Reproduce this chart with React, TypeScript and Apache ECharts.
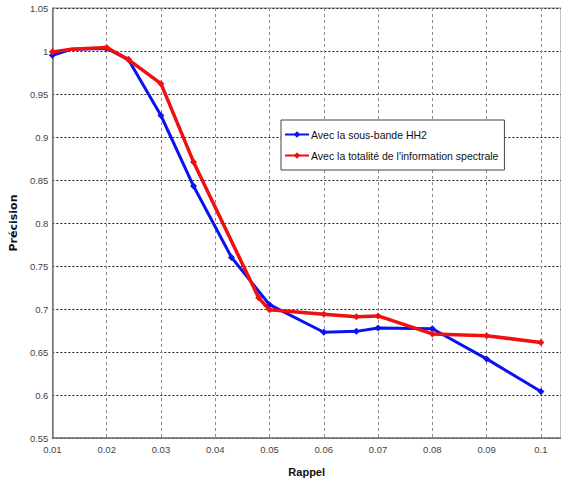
import React, { useEffect, useRef } from "react";
import * as echarts from "echarts";

const blueName = "Avec la sous-bande HH2";
const redName = "Avec la totalité de l'information spectrale";

const blueX = [0.01, 0.0135, 0.02, 0.024, 0.03, 0.036, 0.043, 0.05, 0.06, 0.066, 0.07, 0.08, 0.09, 0.1];
const blueY = [0.995, 1.002, 1.003, 0.99, 0.925, 0.843, 0.76, 0.705, 0.673, 0.674, 0.678, 0.677, 0.642, 0.604];

const redX = [0.01, 0.0135, 0.02, 0.024, 0.03, 0.036, 0.048, 0.05, 0.06, 0.066, 0.07, 0.08, 0.09, 0.1];
const redY = [0.999, 1.002, 1.004, 0.99, 0.962, 0.871, 0.713, 0.699, 0.694, 0.691, 0.692, 0.671, 0.669, 0.661];

const SANS = "'Liberation Sans', Arial, sans-serif";

function isMultiple(v: number, step: number) {
  const k = v / step;
  return Math.abs(k - Math.round(k)) < 1e-6;
}

export default function App() {
  const ref = useRef<HTMLDivElement>(null);
  useEffect(() => {
    if (!ref.current) return;
    const chart = echarts.init(ref.current, undefined, { renderer: "svg" });
    const pairs = (xs: number[], ys: number[]) => xs.map((x, i) => [x, ys[i]]);
    const noMid = (xs: number[]) => (v: any, p: any) => (isMultiple(xs[p.dataIndex], 0.001) && xs[p.dataIndex] !== 0.0135 ? 7 : 0);
    chart.setOption({
      animation: false,
      backgroundColor: "#ffffff",
      grid: {
        left: 43,
        top: 8,
        right: 0,
        bottom: 39,
        show: true,
        borderColor: "#8a8a8a",
        borderWidth: 1,
      },
      legend: {
        orient: "vertical",
        left: 281,
        top: 120,
        padding: [9, 6, 9, 3],
        itemGap: 10,
        itemWidth: 24,
        itemHeight: 8,
        backgroundColor: "#ffffff",
        borderColor: "#444",
        borderWidth: 1,
        textStyle: { fontFamily: SANS, fontSize: 10.5, color: "#111", padding: [0, 0, 0, -3] },
        data: [blueName, redName],
      },
      xAxis: {
        type: "value",
        min: 0.01,
        max: 0.1037,
        interval: 0.01,
        name: "Rappel",
        nameLocation: "middle",
        nameGap: 28,
        nameTextStyle: { fontFamily: SANS, fontWeight: "bold", fontSize: 11, color: "#111" },
        axisLine: { show: true, lineStyle: { color: "#777", width: 1.5 } },
        axisTick: { show: false },
        axisLabel: {
          fontFamily: SANS,
          fontSize: 9.5,
          color: "#444",
          margin: 6,
          showMaxLabel: false,
          formatter: (v: number) => (isMultiple(v, 0.01) ? String(+v.toFixed(2)) : ""),
        },
        splitLine: { show: true, lineStyle: { color: "#8a8a8a", type: [3, 3], width: 1 } },
      },
      yAxis: {
        type: "value",
        min: 0.55,
        max: 1.05,
        interval: 0.05,
        name: "Précision",
        nameLocation: "middle",
        nameGap: 23,
        nameTextStyle: { fontFamily: "'DejaVu Sans', sans-serif", fontWeight: "bold", fontSize: 11, color: "#111" },
        axisLine: { show: true, lineStyle: { color: "#777", width: 1.5 } },
        axisTick: { show: false },
        axisLabel: {
          fontFamily: SANS,
          fontSize: 9.5,
          color: "#444",
          margin: 4,
          formatter: (v: number) => String(+v.toFixed(2)),
        },
        splitLine: { show: true, lineStyle: { color: "#222", type: [2, 2], width: 1 } },
      },
      series: [
        {
          name: blueName,
          type: "line",
          data: pairs(blueX, blueY),
          symbol: "diamond",
          symbolSize: noMid(blueX),
          showAllSymbol: true,
          color: "#0a12f0",
          lineStyle: { width: 3, color: "#0a12f0" },
          itemStyle: { color: "#0a12f0" },
          z: 3,
        },
        {
          name: redName,
          type: "line",
          data: pairs(redX, redY),
          symbol: "diamond",
          symbolSize: noMid(redX),
          showAllSymbol: true,
          color: "#f01010",
          lineStyle: { width: 3.5, color: "#f01010" },
          itemStyle: { color: "#f01010" },
          z: 4,
        },
      ],
    });
    return () => chart.dispose();
  }, []);
  return (
    <div
      ref={ref}
      style={{ position: "absolute", left: 0, top: 0, width: 561, height: 482, background: "#fff" }}
    />
  );
}
